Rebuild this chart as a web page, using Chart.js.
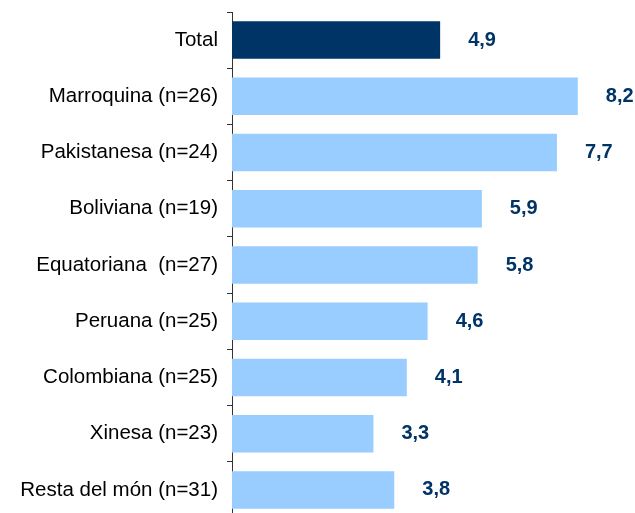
<!DOCTYPE html>
<html>
<head>
<meta charset="utf-8">
<script src="https://cdn.jsdelivr.net/npm/chart.js@4/dist/chart.umd.min.js"></script>
<style>
html,body{margin:0;padding:0;background:#fff;overflow:hidden;}
#wrap{position:relative;width:635px;height:530px;}
</style>
</head>
<body>
<div id="wrap"><canvas id="c"></canvas></div>
<script>
const categories = ["Total","Marroquina (n=26)","Pakistanesa (n=24)","Boliviana (n=19)","Equatoriana  (n=27)","Peruana (n=25)","Colombiana (n=25)","Xinesa (n=23)","Resta del món (n=31)"];
const values = [4.9, 8.2, 7.7, 5.9, 5.8, 4.6, 4.1, 3.3, 3.8];
const valueLabels = ["4,9","8,2","7,7","5,9","5,8","4,6","4,1","3,3","3,8"];
const barColors = values.map((v,i)=> i===0 ? "#003366" : "#99CCFF");

const labelPlugin = {
  id:'valLabels',
  afterDatasetsDraw(chart){
    const ctx = chart.ctx;
    const meta = chart.getDatasetMeta(0);
    ctx.save();
    ctx.font = "bold 20px 'Liberation Sans', Arial, sans-serif";
    ctx.fillStyle = "#003366";
    ctx.textAlign = "left";
    ctx.textBaseline = "middle";
    meta.data.forEach((bar,i)=>{
      ctx.fillText(valueLabels[i], bar.x + 28, bar.y);
    });
    ctx.restore();
  }
};

new Chart(document.getElementById('c'), {
  type:'bar',
  data:{
    labels:categories,
    datasets:[{data:values, backgroundColor:barColors, borderWidth:0, barPercentage:0.667, categoryPercentage:1, base:-0.09}]
  },
  options:{
    indexAxis:'y',
    responsive:true,
    maintainAspectRatio:false,
    animation:false,
    layout:{padding:{top:12, right:23, bottom:12, left:0}},
    plugins:{legend:{display:false}, tooltip:{enabled:false}},
    scales:{
      x:{display:false, min:-0.09, max:9.02},
      y:{
        afterFit(scale){ scale.width = 232; scale.paddingTop = 0; scale.paddingBottom = 0; },
        grid:{drawOnChartArea:false, drawTicks:true, tickLength:5, color:"#333", offset:true},
        border:{display:true, color:"#333", width:1},
        ticks:{color:"#000", padding:9, font:{family:"'Liberation Sans', Arial, sans-serif", size:20.5}}
      }
    }
  },
  plugins:[labelPlugin]
});
</script>
</body>
</html>
